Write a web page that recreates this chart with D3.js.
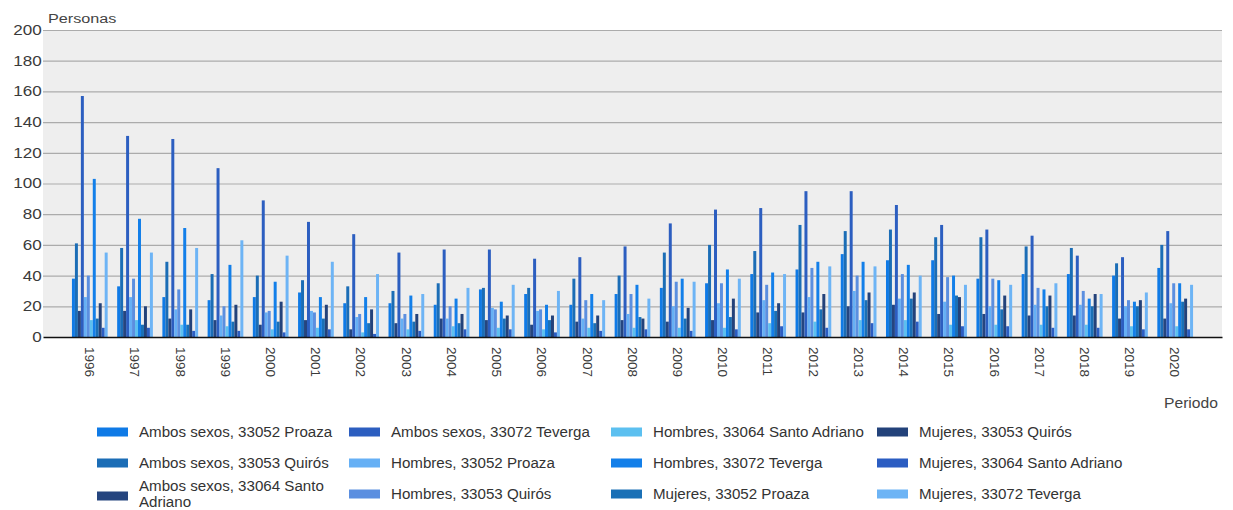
<!DOCTYPE html>
<html><head><meta charset="utf-8">
<script src="https://cdn.jsdelivr.net/npm/d3@7"></script>
<style>
body{margin:0;background:#fff}
svg{display:block;font-family:"Liberation Sans",Arial,sans-serif}
</style>
</head><body>
<svg id="chart" width="1233" height="510"></svg>
<script>
// ---- data ----
const years = ["1996","1997","1998","1999","2000","2001","2002","2003","2004","2005","2006","2007","2008","2009","2010","2011","2012","2013","2014","2015","2016","2017","2018","2019","2020"];
const seriesNames = [
  "Ambos sexos, 33052 Proaza","Ambos sexos, 33053 Quirós","Ambos sexos, 33064 Santo Adriano","Ambos sexos, 33072 Teverga",
  "Hombres, 33052 Proaza","Hombres, 33053 Quirós","Hombres, 33064 Santo Adriano","Hombres, 33072 Teverga",
  "Mujeres, 33052 Proaza","Mujeres, 33053 Quirós","Mujeres, 33064 Santo Adriano","Mujeres, 33072 Teverga"
];
const seriesColors = ["#0f7ae6","#1b6db6","#25457f","#2c5ec0","#66b0f5","#5b8fe0","#5cc0f0","#137fe9","#1a70b6","#23427a","#2b5dc2","#6db4f5"];
const ambosProaza   = [38,33,26,24,26,29,22,22,21,31,28,21,28,32,35,41,44,54,50,50,38,41,41,40,45];
const ambosQuiros   = [61,58,49,41,40,37,33,30,35,32,32,38,40,55,60,56,73,69,70,65,65,59,58,48,60];
const ambosSantoAdr = [17,17,12,11,8,11,5,9,12,11,8,10,11,10,11,16,16,20,21,15,15,14,14,12,12];
const ambosTeverga  = [157,131,129,110,89,75,67,55,57,57,51,52,59,74,83,84,95,95,86,73,70,66,53,52,69];
const hombresProaza   = [26,26,18,14,16,17,13,12,12,19,17,12,15,20,22,24,26,30,25,23,20,21,21,20,22];
const hombresQuiros   = [40,38,31,20,17,16,15,15,20,18,18,24,28,36,35,34,45,40,41,39,38,32,30,24,35];
const hombresSantoAdr = [11,11,8,7,5,6,3,5,7,6,5,6,6,6,6,9,10,11,11,8,8,8,8,7,7];
const hombresTeverga  = [103,77,71,47,36,26,26,27,25,23,21,28,34,38,44,42,49,49,47,40,37,31,25,23,35];
const mujeresProaza   = [12,8,8,10,10,12,9,10,9,12,11,9,13,12,13,17,18,24,25,27,18,20,20,20,23];
const mujeresQuiros   = [22,20,18,21,23,21,18,15,15,14,14,14,12,19,25,22,28,29,29,26,27,27,28,24,25];
const mujeresSantoAdr = [6,6,4,4,3,5,2,4,5,5,3,4,5,4,5,7,6,9,10,7,7,6,6,5,5];
const mujeresTeverga  = [55,55,58,63,53,49,41,28,32,34,30,24,25,36,38,41,46,46,40,34,34,35,28,29,34];
const yTicks = [0,20,40,60,80,100,120,140,160,180,200];
const yTitle = "Personas";
const xTitle = "Periodo";

const seriesValues = [ambosProaza,ambosQuiros,ambosSantoAdr,ambosTeverga,
  hombresProaza,hombresQuiros,hombresSantoAdr,hombresTeverga,
  mujeresProaza,mujeresQuiros,mujeresSantoAdr,mujeresTeverga];

// ---- layout ----
const svg = d3.select("#chart");
const pLeft = 43, pRight = 1222, pTop = 30, pBottom = 337;
const y = d3.scaleLinear().domain([0,200]).range([pBottom, pTop]);
const x0 = d3.scaleBand().domain(years).range([pLeft, pRight]).paddingInner(0.21).paddingOuter(0.64);
const x1 = d3.scaleBand().domain(d3.range(seriesNames.length)).range([0, x0.bandwidth()]);

svg.append("rect").attr("x", pLeft).attr("y", pTop).attr("width", pRight-pLeft).attr("height", pBottom-pTop).attr("fill", "#eeeeee");

// gridlines
const grid = svg.append("g").attr("transform", `translate(${pLeft},0)`)
  .call(d3.axisLeft(y).tickValues(yTicks.filter(d=>d>0)).tickSize(-(pRight-pLeft)).tickFormat(""));
grid.select(".domain").remove();
grid.selectAll("line").attr("stroke", "#ababab").attr("stroke-width", 1.2);

// bars
const groups = svg.append("g").selectAll("g").data(years).join("g")
  .attr("transform", d => `translate(${x0(d)},0)`);
groups.selectAll("rect")
  .data((yr, i) => seriesValues.map((vals, s) => ({s, v: vals[i]})))
  .join("rect")
  .attr("x", d => x1(d.s))
  .attr("width", x1.bandwidth())
  .attr("y", d => y(d.v))
  .attr("height", d => y(0) - y(d.v))
  .attr("fill", d => seriesColors[d.s]);

// y axis labels
const yAxis = svg.append("g").attr("transform", `translate(${pLeft},0)`)
  .call(d3.axisLeft(y).tickValues(yTicks).tickSize(0).tickPadding(1));
yAxis.select(".domain").remove();
yAxis.selectAll("text").attr("font-size", 14).attr("fill", "#3a3a3a")
  .attr("font-family", "Liberation Sans, Arial, sans-serif")
  .attr("transform", "scale(1.22,1)");

// x axis
const xAxis = svg.append("g").attr("transform", `translate(0,${pBottom})`)
  .call(d3.axisBottom(x0).tickSize(0));
xAxis.select(".domain").attr("stroke", "#111").attr("stroke-width", 1.3);
xAxis.selectAll("text")
  .attr("font-size", 13.5).attr("fill", "#3a3a3a")
  .attr("font-family", "Liberation Sans, Arial, sans-serif")
  .attr("text-anchor", "start")
  .attr("transform", "rotate(90)")
  .attr("x", 10).attr("y", 0).attr("dy", "0.35em");

// titles
svg.append("text").attr("transform", "translate(48,23) scale(1.2,1)")
  .attr("font-size", 13.5).attr("fill", "#444").text(yTitle);
svg.append("text").attr("transform", "translate(1218,408) scale(1.12,1)")
  .attr("text-anchor", "end")
  .attr("font-size", 14).attr("fill", "#444").text(xTitle);

// legend (column-major, 4 columns x 3 rows)
const colX = [97, 349, 611, 877];
const rowY = [432, 463, 494];
const legend = svg.append("g");
seriesNames.forEach((name, i) => {
  const col = Math.floor(i / 3), row = i % 3;
  const gx = colX[col], gy = rowY[row];
  const maxW = (col < 3 ? colX[col+1] - gx - 44 : 300);
  const g = legend.append("g");
  const t = g.append("text").attr("font-size", 14).attr("fill", "#333")
    .attr("transform", `translate(${gx+42},${gy}) scale(1.08,1)`);
  const words = name.split(" ");
  let lines = [], cur = [];
  const tmp = t.append("tspan");
  words.forEach(w => {
    cur.push(w);
    tmp.text(cur.join(" "));
    if (tmp.node().getComputedTextLength()*1.08 > maxW && cur.length > 1) {
      cur.pop(); lines.push(cur.join(" ")); cur = [w];
    }
  });
  lines.push(cur.join(" "));
  tmp.remove();
  const lh = 16;
  lines.forEach((ln, k) => {
    t.append("tspan").attr("x", 0)
      .attr("y", (k - (lines.length-1)/2) * lh)
      .attr("dy", "0.35em").text(ln);
  });
  g.append("rect").attr("x", gx).attr("y", gy - 4.5 + (lines.length>1?2:0))
    .attr("width", 31).attr("height", 9).attr("fill", seriesColors[i]);
});
</script>
</body></html>
